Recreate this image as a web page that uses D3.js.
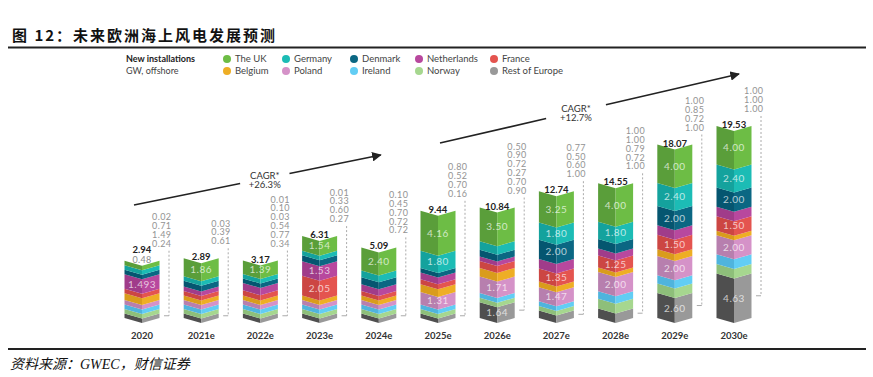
<!DOCTYPE html>
<html>
<head>
<meta charset="utf-8">
<script src="https://cdn.jsdelivr.net/npm/d3@7"></script>
<style>
  body { margin: 0; background: #fff; }
  text { font-family: Lato, "DejaVu Sans", sans-serif; }
</style>
</head>
<body>
<div id="chart"></div>
<script>
// years on the x axis
const years = ['2020', '2021e', '2022e', '2023e', '2024e', '2025e', '2026e', '2027e', '2028e', '2029e', '2030e'];

// new offshore installations, GW, one array per country
const uk          = [0.48, 1.86, 1.39, 1.54, 2.40, 4.16, 3.50, 3.25, 4.00, 4.00, 4.00];
const germany     = [0.24, 0,    0.34, 0.27, 0.72, 1.80, 0.90, 1.80, 1.80, 2.40, 2.40];
const denmark     = [0,    0.61, 0,    0.60, 0.72, 0.16, 0.70, 2.00, 1.00, 2.00, 2.00];
const netherlands = [1.493,0.39, 0.77, 1.53, 0.70, 0.70, 0.27, 1.00, 0.72, 1.00, 1.00];
const france      = [0,    0,    0.54, 2.05, 0.45, 0.52, 0.72, 1.35, 1.25, 1.50, 1.50];
const belgium     = [0.71, 0,    0.03, 0,    0,    0.80, 0.90, 0.60, 0,    0.72, 0];
const poland      = [0,    0,    0,    0,    0,    1.31, 1.71, 1.47, 2.00, 2.00, 2.00];
const ireland     = [0,    0,    0,    0,    0,    0,    0.50, 0.50, 0.79, 0.85, 1.00];
const norway      = [0,    0,    0.10, 0.33, 0,    0,    0,    0,    1.00, 1.00, 1.00];
const restEurope  = [0.02, 0.03, 0.01, 0.01, 0.10, 0,    1.64, 0.77, 1.00, 2.60, 4.63];

const totals = [2.94, 2.89, 3.17, 6.31, 5.09, 9.44, 10.84, 12.74, 14.55, 18.07, 19.53];

// numbers printed inside the bars
const inBar = [
  ['uk', 'netherlands'],
  ['uk'],
  ['uk'],
  ['uk', 'netherlands', 'france'],
  ['uk'],
  ['uk', 'germany', 'poland'],
  ['uk', 'poland', 'rest'],
  ['uk', 'germany', 'denmark', 'france', 'poland'],
  ['uk', 'germany', 'france', 'poland'],
  ['uk', 'germany', 'denmark', 'france', 'poland', 'rest'],
  ['uk', 'germany', 'denmark', 'france', 'poland', 'rest']
];

// the small numbers listed beside each bar
const sideLabels = [
  ['0.02', '0.71', '1.49', '0.24'],
  ['0.03', '0.39', '0.61'],
  ['0.01', '0.10', '0.03', '0.54', '0.77', '0.34'],
  ['0.01', '0.33', '0.60', '0.27'],
  ['0.10', '0.45', '0.70', '0.72', '0.72'],
  ['0.80', '0.52', '0.70', '0.16'],
  ['0.50', '0.90', '0.72', '0.27', '0.70', '0.90'],
  ['0.77', '0.50', '0.60', '1.00'],
  ['1.00', '1.00', '0.79', '0.72', '1.00'],
  ['1.00', '0.85', '0.72', '1.00'],
  ['1.00', '1.00', '1.00']
];

const cagr = [
  { from: '2020', to: '2024e', label: '+26.3%' },
  { from: '2025e', to: '2030e', label: '+12.7%' }
];

const series = [
  { key: 'uk', name: 'The UK', values: uk },
  { key: 'germany', name: 'Germany', values: germany },
  { key: 'denmark', name: 'Denmark', values: denmark },
  { key: 'netherlands', name: 'Netherlands', values: netherlands },
  { key: 'france', name: 'France', values: france },
  { key: 'belgium', name: 'Belgium', values: belgium },
  { key: 'poland', name: 'Poland', values: poland },
  { key: 'ireland', name: 'Ireland', values: ireland },
  { key: 'norway', name: 'Norway', values: norway },
  { key: 'rest', name: 'Rest of Europe', values: restEurope }
];
const stackOrder = ['rest', 'norway', 'ireland', 'poland', 'belgium', 'france', 'netherlands', 'denmark', 'germany', 'uk'];

// [light face, dark face]
const colors = {
  uk: ['#6dbd45', '#5a9e3a'],
  germany: ['#1cbcb5', '#14a29d'],
  denmark: ['#0b6783', '#055670'],
  netherlands: ['#b8489e', '#a03c8a'],
  france: ['#e4544f', '#cc4643'],
  belgium: ['#eeae25', '#d99c1c'],
  poland: ['#d592c8', '#b77fae'],
  ireland: ['#62cdf4', '#4fb4dd'],
  norway: ['#a6d78f', '#8ebf7a'],
  rest: ['#999999', '#4f4f4f']
};

const W = 873, H = 377;
const svg = d3.select('#chart').append('svg')
    .attr('width', W)
    .attr('height', H)
    .style('background', '#fff');

// title & rules
svg.append('text')
    .attr('x', 12).attr('y', 41)
    .style('font-family', '"Noto Sans CJK SC", sans-serif')
    .style('font-size', '15px')
    .style('font-weight', 700)
    .style('letter-spacing', '2px')
    .attr('fill', '#111')
    .text('图 12：未来欧洲海上风电发展预测');
svg.append('line').attr('x1', 8).attr('x2', 866).attr('y1', 47.5).attr('y2', 47.5)
    .attr('stroke', '#222').attr('stroke-width', 2);
svg.append('line').attr('x1', 8).attr('x2', 866).attr('y1', 349).attr('y2', 349)
    .attr('stroke', '#222').attr('stroke-width', 2);
svg.append('text')
    .attr('x', 10).attr('y', 369)
    .style('font-family', '"Liberation Serif", "Noto Sans CJK SC", serif')
    .style('font-size', '14px')
    .style('font-style', 'italic')
    .attr('fill', '#111')
    .text('资料来源：GWEC，财信证券');

// legend
const lg = svg.append('g');
lg.append('text').attr('x', 126).attr('y', 62)
    .style('font-size', '9px').style('font-weight', 700).attr('fill', '#222')
    .text('New installations');
lg.append('text').attr('x', 126).attr('y', 74)
    .style('font-size', '9px').attr('fill', '#444')
    .text('GW, offshore');
const legendCols = [227, 286, 354, 419, 494];
series.forEach((s, i) => {
  const cx = legendCols[i % 5];
  const cy = i < 5 ? 59 : 71;
  lg.append('circle').attr('cx', cx).attr('cy', cy).attr('r', 4)
      .attr('fill', colors[s.key][0]);
  lg.append('text').attr('x', cx + 8).attr('y', cy + 3.3)
      .style('font-size', '9.5px').attr('fill', '#444')
      .text(s.name);
});

// scales
const x = d3.scalePoint().domain(years).range([142, 734]);
const h = d3.scaleLinear().domain([0, 1]).range([0, 9.6]);
const minSeg = 4.5, notch = 5, halfW = 17.5, baseY = 318;

const byKey = {};
series.forEach(s => { byKey[s.key] = s; });
const fmt = v => (Math.round(v * 100) / 100 === v ? v.toFixed(2) : v.toFixed(3));

const bars = svg.append('g');

years.forEach((yr, i) => {
  const cx = x(yr);
  let yb = baseY;
  const segs = stackOrder.map(key => {
    const v = byKey[key].values[i];
    const sh = Math.max(minSeg, h(v));
    const seg = { key, v, y0: yb, y1: yb - sh };
    yb -= sh;
    return seg;
  });
  const top = yb;
  const g = bars.append('g');

  segs.forEach(s => {
    g.append('polygon')
        .attr('points', [[cx - halfW, s.y1], [cx, s.y1 + notch], [cx, s.y0 + notch], [cx - halfW, s.y0]].join(' '))
        .attr('fill', colors[s.key][1]);
    g.append('polygon')
        .attr('points', [[cx, s.y1 + notch], [cx + halfW, s.y1], [cx + halfW, s.y0], [cx, s.y0 + notch]].join(' '))
        .attr('fill', colors[s.key][0]);
  });

  // values inside bars (a too-thin segment gets its value on top of the bar)
  let lift = 0;
  segs.filter(s => inBar[i].includes(s.key)).forEach(s => {
    if (s.y0 - s.y1 < 10) {
      g.append('text')
          .attr('x', cx).attr('y', top + 2)
          .attr('text-anchor', 'middle')
          .style('font-size', '9px').style('letter-spacing', '0.3px')
          .attr('fill', '#8a8a8a')
          .text(fmt(s.v));
      lift = 9.5;
    } else {
      g.append('text')
          .attr('x', cx).attr('y', (s.y0 + s.y1) / 2 + notch / 2 + 3.5)
          .attr('text-anchor', 'middle')
          .style('font-size', '10px').style('letter-spacing', '0.5px')
          .attr('fill', 'rgba(255,255,255,0.7)')
          .text(fmt(s.v));
    }
  });

  // total
  g.append('text')
      .attr('x', cx).attr('y', top + 2 - lift)
      .attr('text-anchor', 'middle')
      .style('font-size', '9.5px').style('font-weight', 700)
      .attr('fill', '#222')
      .text(totals[i].toFixed(2));

  // side list with dashed leader
  const lx = cx + 27;
  const lastY = top - 14;
  const labs = sideLabels[i];
  labs.forEach((t, j) => {
    g.append('text')
        .attr('x', lx + 2.5)
        .attr('y', lastY - (labs.length - 1 - j) * 8.8)
        .attr('text-anchor', 'end')
        .style('font-size', '9px').style('letter-spacing', '0.4px')
        .attr('fill', '#939393')
        .text(t);
  });
  const rest = segs[0];
  const yEnd = (rest.y0 + rest.y1) / 2;
  g.append('line')
      .attr('x1', lx).attr('x2', lx).attr('y1', lastY + 4).attr('y2', yEnd)
      .attr('stroke', '#a0a0a0').attr('stroke-width', 0.9)
      .attr('stroke-dasharray', '2,2');
  g.append('line')
      .attr('x1', lx - 5).attr('x2', lx).attr('y1', yEnd).attr('y2', yEnd)
      .attr('stroke', '#a0a0a0').attr('stroke-width', 0.9);
});

// x axis labels
svg.append('g')
  .selectAll('text')
  .data(years)
  .join('text')
    .attr('x', d => x(d))
    .attr('y', 339)
    .attr('text-anchor', 'middle')
    .style('font-size', '9.5px').style('font-weight', 700)
    .attr('fill', '#333')
    .text(d => d);

// CAGR arrows
svg.append('defs').append('marker')
    .attr('id', 'head')
    .attr('viewBox', '0 0 10 10')
    .attr('refX', 9).attr('refY', 5)
    .attr('markerWidth', 6).attr('markerHeight', 6)
    .attr('orient', 'auto')
  .append('path')
    .attr('d', 'M0,0 L10,5 L0,10 Z')
    .attr('fill', '#222');

const arrowLayout = [
  { x0: -8, y0: 205, x1: 2, y1: 155, tc: 0.53 },
  { x0: 2, y0: 143, x1: 5, y1: 74, tc: 0.455 }
];
cagr.forEach((c, i) => {
  const a = arrowLayout[i];
  const p0 = [x(c.from) + a.x0, a.y0];
  const p1 = [x(c.to) + a.x1, a.y1];
  const at = t => [p0[0] + (p1[0] - p0[0]) * t, p0[1] + (p1[1] - p0[1]) * t];
  const g1 = at(a.tc - 0.1), g2 = at(a.tc + 0.1), mid = at(a.tc);
  svg.append('line')
      .attr('x1', p0[0]).attr('y1', p0[1]).attr('x2', g1[0]).attr('y2', g1[1])
      .attr('stroke', '#222').attr('stroke-width', 1.6);
  svg.append('line')
      .attr('x1', g2[0]).attr('y1', g2[1]).attr('x2', p1[0]).attr('y2', p1[1])
      .attr('stroke', '#222').attr('stroke-width', 1.6)
      .attr('marker-end', 'url(#head)');
  svg.append('text')
      .attr('x', mid[0]).attr('y', mid[1])
      .attr('text-anchor', 'middle')
      .style('font-size', '9.5px').attr('fill', '#333')
      .text('CAGR*');
  svg.append('text')
      .attr('x', mid[0]).attr('y', mid[1] + 9)
      .attr('text-anchor', 'middle')
      .style('font-size', '9.5px').attr('fill', '#333')
      .text(c.label);
});
</script>
</body>
</html>
